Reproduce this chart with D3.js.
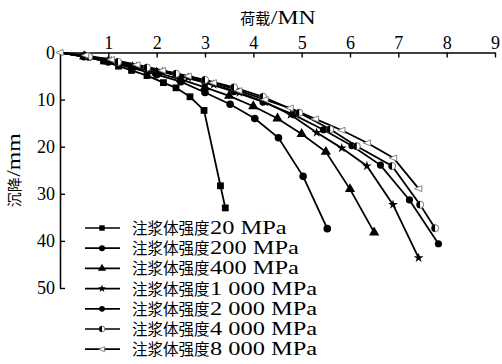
<!DOCTYPE html>
<html>
<head>
<meta charset="utf-8">
<script src="https://cdn.jsdelivr.net/npm/d3@7"></script>
<style>
  html, body { margin: 0; padding: 0; background: #fff; }
  svg { display: block; }
  text { fill: #000; }
</style>
</head>
<body>
<div id="chart"></div>
<script>
// Load–settlement curves of the pile for different grout strengths
const seriesNames = [
  "注浆体强度20 MPa",
  "注浆体强度200 MPa",
  "注浆体强度400 MPa",
  "注浆体强度1 000 MPa",
  "注浆体强度2 000 MPa",
  "注浆体强度4 000 MPa",
  "注浆体强度8 000 MPa"
];
const markerTypes = ["square", "circle", "triangle", "star", "dot", "half", "leftTri"];

// load (MN) and settlement (mm) per point
const load20   = [0, 0.5, 0.9, 1.21, 1.48, 1.8, 2.14, 2.4, 2.69, 2.98, 3.32, 3.42];
const settle20 = [0, 0.8, 1.8, 2.9, 3.8, 4.9, 6.4, 7.5, 9.4, 12.3, 28.3, 33.0];

const load200   = [0, 0.5, 1.0, 1.5, 2.0, 2.5, 3.0, 3.52, 4.03, 4.52, 5.03, 5.53];
const settle200 = [0, 0.9, 2.0, 3.3, 4.7, 6.2, 8.5, 11.0, 14.0, 18.1, 26.3, 37.4];

const load400   = [0, 0.5, 1.0, 1.5, 2.0, 2.5, 3.0, 3.5, 4.0, 4.5, 5.0, 5.5, 6.0, 6.5];
const settle400 = [0, 0.8, 1.9, 3.1, 4.3, 5.7, 7.4, 9.2, 11.4, 14.0, 17.3, 21.1, 29.0, 38.2];

const load1000   = [0, 0.53, 1.06, 1.59, 2.12, 2.65, 3.18, 3.71, 4.24, 4.77, 5.31, 5.83, 6.35, 6.89, 7.42];
const settle1000 = [0, 0.8, 1.8, 3.0, 4.1, 5.3, 6.8, 8.5, 10.5, 13.2, 17.0, 20.3, 24.1, 32.3, 43.6];

const load2000   = [0, 0.6, 1.2, 1.8, 2.4, 3.0, 3.6, 4.2, 4.83, 5.45, 6.04, 6.63, 7.23, 7.83];
const settle2000 = [0, 1.0, 2.1, 3.4, 4.8, 6.4, 8.3, 10.5, 13.2, 16.4, 19.8, 23.9, 31.3, 40.6];

const load4000   = [0, 0.6, 1.2, 1.8, 2.4, 3.0, 3.6, 4.2, 4.95, 5.59, 6.14, 6.87, 7.45, 7.76];
const settle4000 = [0, 0.9, 2.0, 3.2, 4.5, 5.8, 7.4, 9.4, 12.8, 16.3, 19.9, 24.1, 32.3, 37.3];

const load8000   = [0, 0.53, 1.06, 1.59, 2.12, 2.65, 3.17, 3.7, 4.24, 4.76, 5.28, 5.83, 6.36, 6.9, 7.42];
const settle8000 = [0, 0.6, 1.5, 2.6, 3.8, 5.0, 6.4, 8.1, 10.0, 11.8, 14.1, 16.5, 19.2, 22.4, 28.9];

const xTicks = [1, 2, 3, 4, 5, 6, 7, 8, 9];
const yTicks = [0, 10, 20, 30, 40, 50];

const loads = [load20, load200, load400, load1000, load2000, load4000, load8000];
const settles = [settle20, settle200, settle400, settle1000, settle2000, settle4000, settle8000];
const series = seriesNames.map((name, i) => ({
  name, marker: markerTypes[i],
  points: loads[i].map((x, j) => ({ x, y: settles[i][j] }))
}));

const W = 502, H = 364;
const margin = { left: 60, top: 52.5, right: 7, bottom: 76 };
const SERIF = "Liberation Serif, Times New Roman, serif";
const CJK = "Noto Sans CJK SC, sans-serif";
const STRETCH = 1.32;   // wide Latin lettering

const svg = d3.select("#chart").append("svg").attr("width", W).attr("height", H);

const x = d3.scaleLinear().domain([0, 9]).range([margin.left, W - margin.right]);
const y = d3.scaleLinear().domain([0, 50]).range([margin.top, H - margin.bottom]);

// top x axis, ticks pointing into the plot
const xAxis = svg.append("g").attr("transform", `translate(0,${margin.top})`)
  .call(d3.axisTop(x).tickValues(xTicks).tickSize(-5).tickPadding(4).tickSizeOuter(0));
xAxis.select(".domain").attr("stroke", "#000").attr("stroke-width", 1.6);
xAxis.selectAll(".tick line").attr("stroke", "#000").attr("stroke-width", 1.4);
xAxis.selectAll(".tick text").attr("font-size", 18).attr("font-family", SERIF).attr("fill", "#000");

// left y axis, ticks pointing into the plot
const yAxis = svg.append("g").attr("transform", `translate(${margin.left},0)`)
  .call(d3.axisLeft(y).tickValues(yTicks).tickSize(-5).tickPadding(5).tickSizeOuter(0));
yAxis.select(".domain").attr("stroke", "#000").attr("stroke-width", 1.6);
yAxis.selectAll(".tick line").attr("stroke", "#000").attr("stroke-width", 1.4);
yAxis.selectAll(".tick text").attr("font-size", 18).attr("font-family", SERIF).attr("fill", "#000");
yAxis.selectAll(".tick").filter(d => d === 0).select("line").remove();

// Chinese text followed by stretched serif Latin text; returns total width
function mixedText(g, x0, baseline, cjk, latin, cjkSize, latSize) {
  const t1 = g.append("text").attr("x", x0).attr("y", baseline)
    .attr("font-family", CJK).attr("font-size", cjkSize).text(cjk);
  const w1 = t1.node().getComputedTextLength();
  const t2 = g.append("text")
    .attr("transform", `translate(${x0 + w1 + 0.5},${baseline}) scale(${STRETCH},1)`)
    .attr("font-family", SERIF).attr("font-size", latSize).text(latin);
  return w1 + 0.5 + t2.node().getComputedTextLength() * STRETCH;
}

// axis titles
const xTitle = svg.append("g");
const wx = mixedText(xTitle, 0, 24, "荷载", "/MN", 15, 18);
xTitle.attr("transform", `translate(${278 - wx / 2},0)`);

const yTitle = svg.append("g");
const yInner = yTitle.append("g");
const wy = mixedText(yInner, 0, 0, "沉降", "/mm", 15, 18);
yInner.attr("transform", `translate(${-wy / 2},0)`);
yTitle.attr("transform", `translate(20,${(y(0) + y(50)) / 2}) rotate(-90)`);

// marker drawing
function drawMarker(g, type, cx, cy, k) {
  const s = 3.4 * k;
  if (type === "square") {
    g.append("rect").attr("x", cx - s).attr("y", cy - s).attr("width", 2 * s).attr("height", 2 * s).attr("fill", "#000");
  } else if (type === "circle") {
    g.append("circle").attr("cx", cx).attr("cy", cy).attr("r", 3.8 * k).attr("fill", "#000");
  } else if (type === "dot") {
    g.append("circle").attr("cx", cx).attr("cy", cy).attr("r", 3.6 * k).attr("fill", "#000");
  } else if (type === "triangle") {
    g.append("path").attr("d", d3.symbol(d3.symbolTriangle, 46 * k * k)()).attr("transform", `translate(${cx},${cy})`).attr("fill", "#000");
  } else if (type === "star") {
    g.append("path").attr("d", d3.symbol(d3.symbolStar, 30 * k * k)()).attr("transform", `translate(${cx},${cy})`).attr("fill", "#000");
  } else if (type === "half") {
    const r = 3.6 * k;
    g.append("circle").attr("cx", cx).attr("cy", cy).attr("r", r).attr("fill", "#fff").attr("stroke", "#555").attr("stroke-width", 0.8);
    g.append("path").attr("d", `M${cx},${cy - r}A${r},${r} 0 0 0 ${cx},${cy + r}Z`).attr("fill", "#000");
  } else if (type === "leftTri") {
    g.append("path").attr("d", `M${cx - 4.2 * k},${cy}L${cx + 3.2 * k},${cy - 3 * k}L${cx + 3.2 * k},${cy + 3 * k}Z`)
      .attr("fill", "#fff").attr("stroke", "#777").attr("stroke-width", 0.9);
  }
}

const line = d3.line().x(d => x(d.x)).y(d => y(d.y));
const plot = svg.append("g");
series.forEach(s => {
  plot.append("path").datum(s.points).attr("d", line)
    .attr("fill", "none").attr("stroke", "#000").attr("stroke-width", 1.8);
});
series.forEach(s => {
  const g = plot.append("g");
  s.points.forEach((p, j) => { if (j > 0) drawMarker(g, s.marker, x(p.x), y(p.y), 1); });
});
// common start point
drawMarker(svg.append("g"), "leftTri", x(0), y(0), 1);

// legend
const legend = svg.append("g");
series.forEach((s, i) => {
  const ly = 228 + i * 20.2;
  legend.append("line").attr("x1", 85).attr("x2", 120).attr("y1", ly).attr("y2", ly)
    .attr("stroke", "#000").attr("stroke-width", 1.7);
  drawMarker(legend, s.marker, 102, ly, 0.8);
  const cjk = s.name.slice(0, 5), latin = s.name.slice(5);
  mixedText(legend, 132, ly + 6, cjk, latin, 15.5, 18.5);
});
</script>
</body>
</html>
